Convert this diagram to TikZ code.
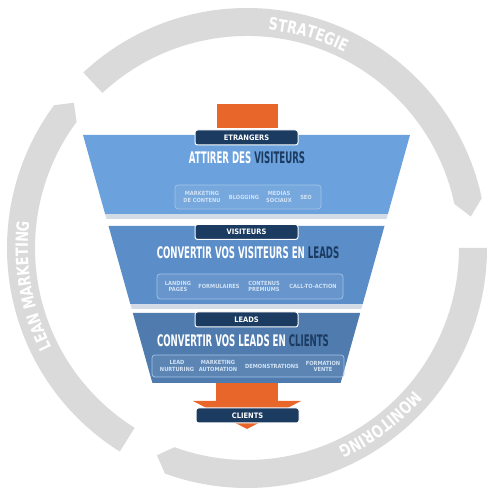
\documentclass[tikz,border=0pt]{standalone}
\usepackage{fontspec}
\setmainfont{DejaVu Sans Condensed}
\newfontfamily\titlefont[FakeStretch=0.6]{DejaVu Sans Condensed}
\newfontfamily\ringfont[FakeStretch=0.85]{DejaVu Sans Condensed}
\usetikzlibrary{positioning,decorations.text}
\definecolor{ringgray}{HTML}{DADADA}
\definecolor{funnelA}{HTML}{6BA1DC}
\definecolor{funnelB}{HTML}{5B8DC8}
\definecolor{funnelC}{HTML}{4F7BAE}
\definecolor{lipgray}{HTML}{D3DCE6}
\definecolor{navy}{HTML}{1B3B60}
\definecolor{orangeA}{HTML}{E8662A}
\definecolor{itemtext}{HTML}{D2E3F5}
\definecolor{itemline}{HTML}{A3C4E8}
\tikzstyle{tabnode}=[rectangle, rounded corners=2.5bp, draw=white, line width=1bp, fill=navy, text=white, font=\bfseries\fontsize{7.5}{8}\selectfont, minimum width=103bp, minimum height=15bp, inner sep=0pt]
\tikzstyle{titlenode}=[text=white, font=\titlefont\bfseries\fontsize{16}{16}\selectfont, inner sep=0pt]
\tikzstyle{itembox}=[rectangle, draw=itemline, line width=0.7bp, rounded corners=3bp, fill=white, fill opacity=0.08, inner sep=0pt]
\tikzstyle{itemnode}=[text=itemtext, font=\bfseries\fontsize{5.7}{6.2}\selectfont, align=center, inner sep=0pt]
\tikzstyle{ringlabel}=[decorate, decoration={text along path, text align=center}]

\begin{document}
\begin{tikzpicture}[x=1bp,y=1bp]
\useasboundingbox (0,0) rectangle (493,494);
%Ring
\begin{scope}[shift={(247,246)}]
\foreach \s/\c/\t in {133/12/8, 0/-110/-113.5, 238/143.5/140}
  \fill[ringgray] (\s:240) arc[start angle=\s, end angle=\c, radius=240] -- (\t:226)
    -- (\c:212) arc[start angle=\c, end angle=\s, radius=212] -- cycle;
\path[ringlabel, decoration={text={|\ringfont\bfseries\fontsize{17}{17}\selectfont\color{white}|STRATEGIE}}]
  (114:219) arc[start angle=114, end angle=34, radius=219];
\path[ringlabel, decoration={text={|\ringfont\bfseries\fontsize{17}{17}\selectfont\color{white}|LEAN MARKETING}}]
  (235:219) arc[start angle=235, end angle=145, radius=219];
\path[ringlabel, decoration={text={|\ringfont\bfseries\fontsize{17}{17}\selectfont\color{white}|MONITORING}}]
  (-8:219) arc[start angle=-8, end angle=-98, radius=219];
\end{scope}
%Funnel
\fill[orangeA] (217,366) rectangle (278,390);
\fill[lipgray] (105.1,280) -- (387.9,280) -- (386.5,275) -- (106.5,275) -- cycle;
\fill[funnelA] (83,359) -- (410,359) -- (387.9,280) -- (105.1,280) -- cycle;
\fill[lipgray] (130.3,190) -- (362.7,190) -- (361.3,185) -- (131.7,185) -- cycle;
\fill[funnelB] (108.5,268) -- (384.5,268) -- (362.7,190) -- (130.3,190) -- cycle;
\fill[funnelC] (132.8,181) -- (360.2,181) -- (340.6,111) -- (152.4,111) -- cycle;
\fill[orangeA] (216,93) rectangle (278,111);
\fill[orangeA] (193,93) -- (301,93) -- (247,65) -- cycle;
%Nodes
\node[tabnode] (etrangers) at (246.5,356.5) {ETRANGERS};
\node[titlenode] (attirer) at (247,336) {ATTIRER DES \textcolor{navy}{VISITEURS}};
\node[itembox, minimum width=146bp, minimum height=24bp] (box1) at (248,297) {};
\node[itemnode] (mkt) at (202,297) {MARKETING\\DE CONTENU};
\node[itemnode] (blog) at (244,297) {BLOGGING};
\node[itemnode] (medias) at (279,297) {MEDIAS\\SOCIAUX};
\node[itemnode] (seo) at (306,297) {SEO};

\node[tabnode] (visiteurs) at (246.5,262) {VISITEURS};
\node[titlenode] (convertir) at (248,241) {CONVERTIR VOS VISITEURS EN \textcolor{navy}{LEADS}};
\node[itembox, minimum width=186bp, minimum height=25bp] (box2) at (250,207.5) {};
\node[itemnode] (landing) at (178,207.5) {LANDING\\PAGES};
\node[itemnode] (formul) at (219,207.5) {FORMULAIRES};
\node[itemnode] (contenus) at (264,207.5) {CONTENUS\\PREMIUMS};
\node[itemnode] (cta) at (313,207.5) {CALL-TO-ACTION};

\node[tabnode] (leads) at (246.5,174.5) {LEADS};
\node[titlenode] (convleads) at (243,153.5) {CONVERTIR VOS LEADS EN \textcolor{navy}{CLIENTS}};
\node[itembox, minimum width=192bp, minimum height=22bp] (box3) at (248,128) {};
\node[itemnode] (nurturing) at (177,128) {LEAD\\NURTURING};
\node[itemnode] (automation) at (218,128) {MARKETING\\AUTOMATION};
\node[itemnode] (demo) at (272,128) {DEMONSTRATIONS};
\node[itemnode] (formation) at (323,128) {FORMATION\\VENTE};

\node[tabnode] (clients) at (247.5,78.5) {CLIENTS};
\end{tikzpicture}
\end{document}
